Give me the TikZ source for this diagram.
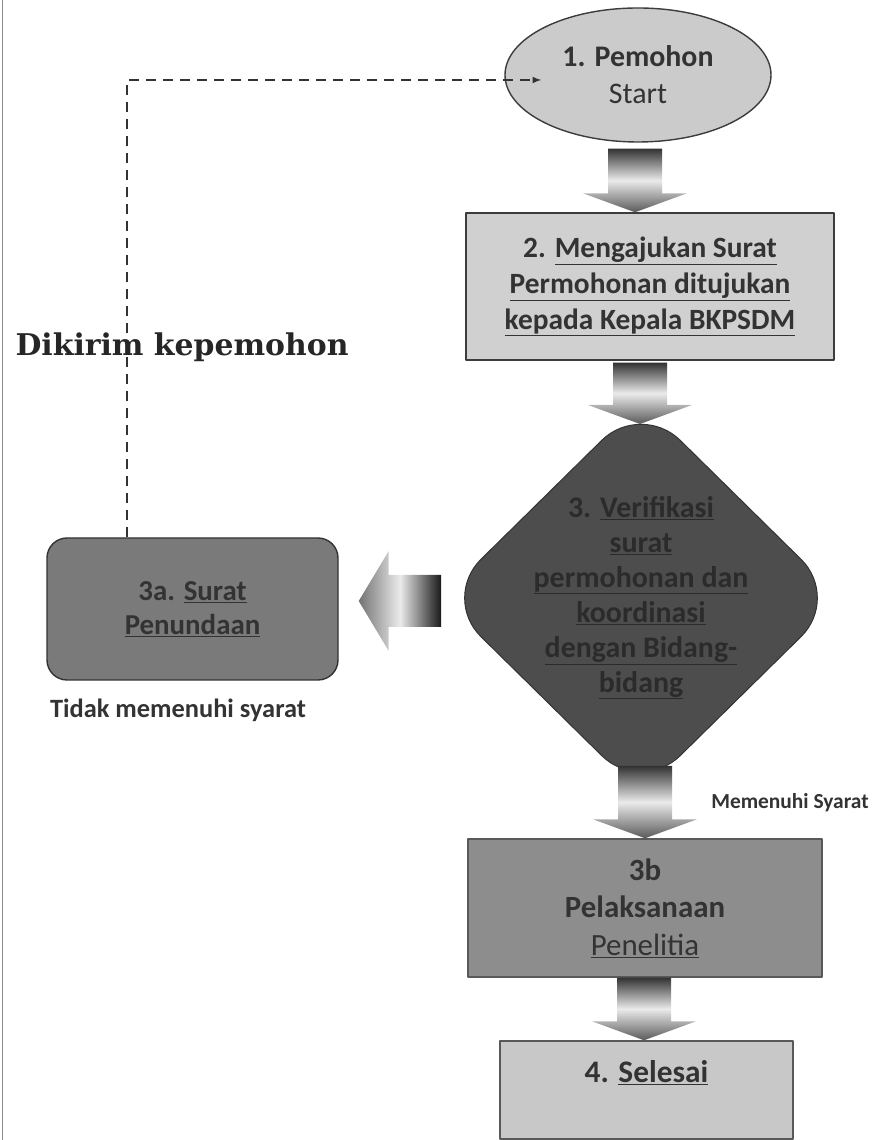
\documentclass[tikz,border=0pt]{standalone}
\usepackage{fontspec}
\setmainfont{Carlito}
\newfontfamily\slabfont{DejaVu Serif}
\usetikzlibrary{shapes.geometric,calc}
\definecolor{inkcol}{HTML}{333333}
\definecolor{edgecol}{HTML}{3C3C3C}
\definecolor{startfill}{HTML}{CBCBCB}
\definecolor{ajuanfill}{HTML}{D0D0D0}
\definecolor{veriffill}{HTML}{4D4D4D}
\definecolor{veriftext}{HTML}{2B2B2B}
\definecolor{tundafill}{HTML}{7A7A7A}
\definecolor{telitifill}{HTML}{8D8D8D}
\definecolor{selesaifill}{HTML}{C8C8C8}
\tikzset{
  stepbox/.style={rectangle, draw=edgecol, line width=1.4bp, align=center, inner sep=0pt,
    text=inkcol, font=\bfseries\fontsize{29.5}{36}\selectfont},
  fatdownstyle/.style={top color=black!80, bottom color=black!65, middle color=black!8},
  fatleftstyle/.style={left color=black!55, right color=black!90, middle color=black!8},
  backedge/.style={draw=inkcol, line width=2bp, dash pattern=on 10bp off 7bp},
}
% fat block arrow pointing down: #1 start point, #2 target (only its y is used)
\newcommand{\fatdown}[2]{%
  \path (#1) coordinate (fa-s) (fa-s |- #2) coordinate (fa-e);
  \shade[fatdownstyle] ($(fa-s)+(-27bp,0)$) -- ($(fa-e)+(-27bp,19bp)$) -- ($(fa-e)+(-52bp,19bp)$)
    -- (fa-e) -- ($(fa-e)+(52bp,19bp)$) -- ($(fa-e)+(27bp,19bp)$) -- ($(fa-s)+(27bp,0)$) -- cycle;}
% fat block arrow pointing left: #1 start point, #2 target (only its x is used)
\newcommand{\fatleft}[2]{%
  \path (#1) coordinate (fa-s) (fa-s -| #2) coordinate (fa-e);
  \shade[fatleftstyle] ($(fa-s)+(0,26bp)$) -- ($(fa-e)+(30bp,26bp)$) -- ($(fa-e)+(30bp,50bp)$)
    -- (fa-e) -- ($(fa-e)+(30bp,-50bp)$) -- ($(fa-e)+(30bp,-26bp)$) -- ($(fa-s)+(0,-26bp)$) -- cycle;}
\begin{document}
\begin{tikzpicture}[>=latex,line join=bevel,]
  \useasboundingbox (0bp,0bp) rectangle (883bp,1140bp);
  \draw [black!45, line width=1bp] (2bp,0bp) -- (2bp,1140bp);
%%
  % Node: pemohon
  \node [ellipse, draw=edgecol, line width=1.4bp, fill=startfill, minimum width=266bp, minimum height=134bp,
    align=center, text=inkcol, font=\fontsize{30}{37}\selectfont] (pemohon) at (638bp,1065bp)
    {\textbf{1. Pemohon}\\Start};
  % Node: ajuan
  \node [stepbox, fill=ajuanfill, minimum width=368bp, minimum height=147bp] (ajuan) at (650bp,853.5bp)
    {2. \underline{Mengajukan Surat}\\\underline{Permohonan ditujukan}\\\underline{kepada Kepala BKPSDM}};
  % Node: verif
  \node [diamond, draw=black!80, line width=1bp, fill=veriffill, rounded corners=55bp, inner sep=0pt,
    minimum width=399bp, minimum height=393bp,
    label={[align=center, text=veriftext, font=\bfseries\fontsize{30}{35}\selectfont]center:{3. \underline{Verifikasi}\\\underline{surat}\\\underline{permohonan dan}\\\underline{koordinasi}\\\underline{dengan Bidang-}\\\underline{bidang}}}]
    (verif) at (641bp,542bp) {};
  \coordinate (vtop) at ($(verif.north)+(0,-23bp)$);
  \coordinate (vbot) at ($(verif.south)+(4bp,29bp)$);
  \coordinate (vleft) at ($(verif.west)+(0,-3bp)$);
  % Node: tunda
  \node [stepbox, rounded corners=20bp, draw=black!80, fill=tundafill, minimum width=291bp, minimum height=142bp,
    font=\bfseries\fontsize{29}{34}\selectfont] (tunda) at (192.5bp,531bp)
    {3a. \underline{Surat}\\\underline{Penundaan}};
  \coordinate (tright) at ($(tunda.east)+(20bp,0)$);
  % Node: tidak
  \node [text=inkcol, font=\bfseries\fontsize{26.5}{30}\selectfont] (tidak) at (178bp,430bp) {Tidak memenuhi syarat};
  % Node: teliti
  \node [stepbox, draw=black!65, fill=telitifill, minimum width=354bp, minimum height=138bp,
    font=\bfseries\fontsize{31}{37.5}\selectfont] (teliti) at (645bp,232bp)
    {3b\\Pelaksanaan\\\mdseries\underline{Penelitia}};
  % Node: syarat
  \node [text=inkcol, font=\bfseries\fontsize{21.5}{24}\selectfont] (syarat) at (790bp,337bp) {Memenuhi Syarat};
  % Node: selesai
  \node [stepbox, draw=black!65, fill=selesaifill, minimum width=293bp, minimum height=98bp,
    font=\bfseries\fontsize{31.5}{37}\selectfont] (selesai) at (646.5bp,50bp)
    {4. \underline{Selesai}\\\mbox{}};
%%
  % Edge: pemohon -> ajuan
  \fatdown{$(pemohon.south)+(-3bp,-6bp)$}{ajuan.north}
  % Edge: ajuan -> verif
  \fatdown{$(ajuan.south)+(-10bp,-2bp)$}{vtop}
  % Edge: verif -> teliti
  \fatdown{vbot}{teliti.north}
  % Edge: teliti -> selesai
  \fatdown{$(teliti.south)+(-1bp,0)$}{selesai.north}
  % Edge: verif -> tunda
  \fatleft{vleft}{tright}
  % Edge: tunda -> pemohon
  \coordinate (back) at ($(pemohon.west)+(37bp,-5bp)$);
  \draw [backedge, ->] ($(tunda.north west)+(81bp,0)$) |- (back);
  % Node: dikirim
  \node [anchor=west, text=black!85, font=\slabfont\bfseries\fontsize{30}{34}\selectfont] (dikirim) at (12bp,793bp)
    {Dikirim kepemohon};
%
\end{tikzpicture}
\end{document}
